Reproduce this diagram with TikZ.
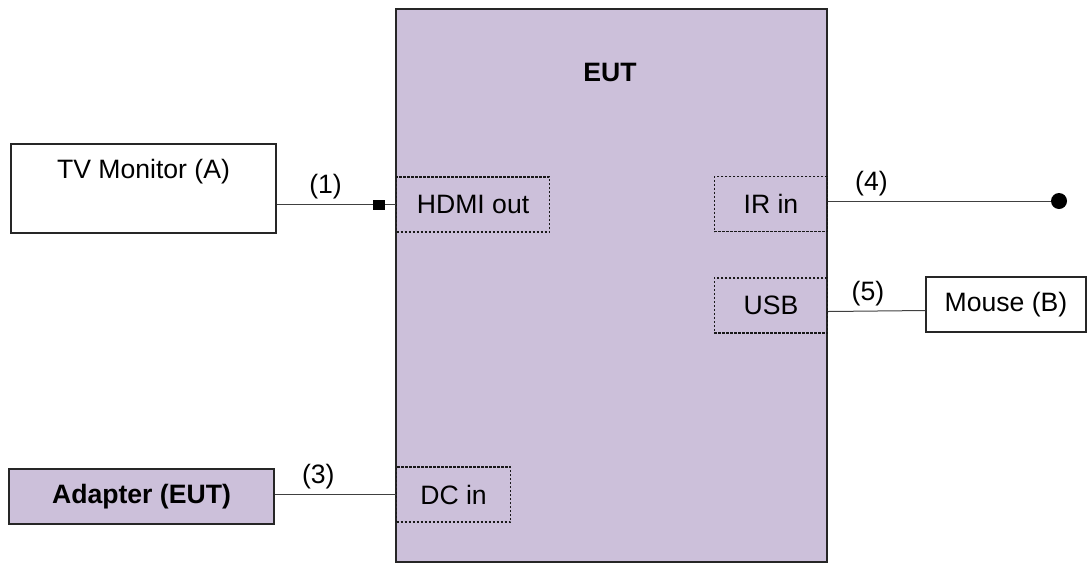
\documentclass[tikz,border=0pt]{standalone}
\usepackage{fontspec}
\setmainfont{Liberation Sans}
\usetikzlibrary{positioning,calc}
\definecolor{eutfill}{RGB}{204,192,218}
\tikzstyle{block} = [draw=black!85, line width=0.6pt, rectangle, inner sep=0pt]
\tikzstyle{port} = [draw=black!90, dash pattern=on 1.1pt off 0.9pt, line width=0.55pt, rectangle, inner sep=0pt, minimum height=27.5pt]
\tikzstyle{wire} = [draw=black!75, line width=0.5pt]
\tikzstyle{num} = [above, inner sep=2.5pt]
\tikzset{boldtext/.style={font=\fontsize{13.3}{16}\selectfont\bfseries}}

\begin{document}
\begin{tikzpicture}[x=0.5pt, y=-0.5pt, font=\fontsize{13.3}{16}\selectfont]
        \useasboundingbox (0,0) rectangle (1090,563);

        \node [block, fill=eutfill, minimum width=215.5pt, minimum height=276.5pt] (EUT) at (611.5,285.5) {};
        \node [boldtext] (EUTname) at (610,72) {EUT};

        \node [port, minimum width=76.5pt, anchor=west] (HDMI) at (396,204.5) {HDMI out};
        \node [port, minimum width=56.5pt, anchor=east] (IR) at (828,204) {IR in};
        \node [port, minimum width=56.5pt, anchor=east] (USB) at (828,305.5) {USB};
        \node [port, minimum width=57pt, anchor=west] (DC) at (396,494.5) {DC in};

        \node [block, minimum width=132.5pt, minimum height=44.5pt] (TV) at (143.5,188.5) {};
        \node (TVname) at ($(TV.north)+(0,28)$) {TV Monitor (A)};
        \node [block, fill=eutfill, minimum width=132.5pt, minimum height=27.5pt, boldtext] (Adapter) at (141.5,496.5) {Adapter (EUT)};
        \node [block, minimum width=80pt, minimum height=27.5pt] (Mouse) at (1006,304.5) {Mouse (B)};
        \node [fill=black, circle, minimum size=8pt, inner sep=0pt] (IRend) at (1059,201) {};

        \draw [wire] (TV.east |- HDMI.west) -- node [num, pos=0.41] {(1)} (HDMI.west);
        \node [fill=black, minimum width=6pt, minimum height=5pt, inner sep=0pt, left=5.5pt of HDMI.west] (plug) {};
        \draw [wire] (Adapter.east |- DC.west) -- node [num, pos=0.36] {(3)} (DC.west);
        \draw [wire] (IR.east |- IRend) -- node [num, pos=0.195] {(4)} (IRend);
        \draw [wire] ($(USB.east)+(0,6)$) -- node [num, pos=0.41] {(5)} ($(Mouse.west)+(0,6)$);
    \end{tikzpicture}
\end{document}
